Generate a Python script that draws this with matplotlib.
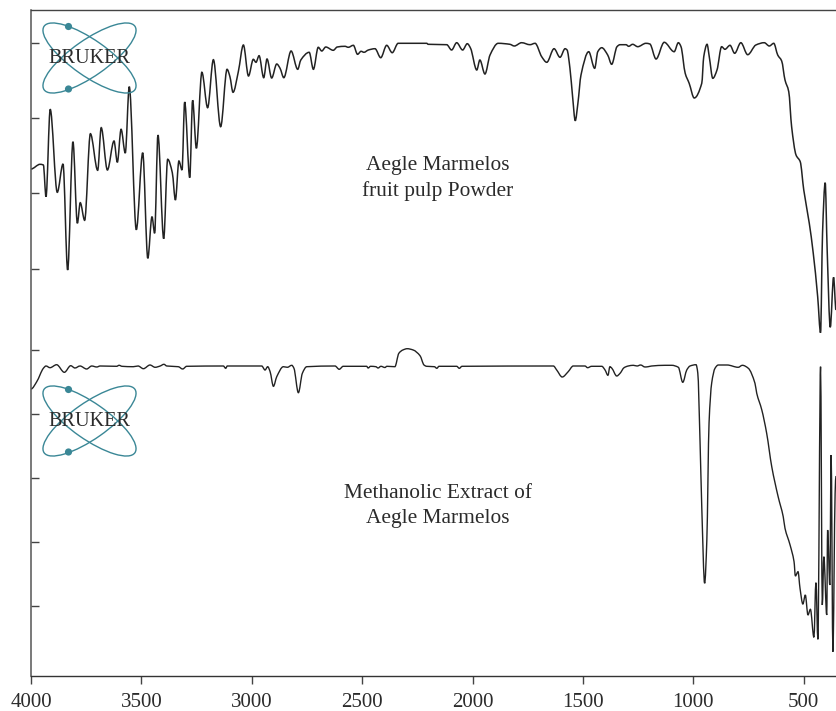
import matplotlib
matplotlib.use("Agg")
import matplotlib.pyplot as plt
import numpy as np
from matplotlib.patches import Ellipse, Circle, PathPatch
from matplotlib.path import Path

# Spectra: wavenumber (cm-1) and height above the x axis
powder_wn = [4000, 3959, 3944, 3932, 3913, 3881, 3855, 3834, 3810, 3790, 3777, 3757, 3731, 3698, 3682, 3654,
             3624, 3609, 3592, 3573, 3555, 3523, 3494, 3471, 3452, 3440, 3425, 3399, 3381, 3360, 3346, 3330,
             3316, 3304, 3281, 3268, 3251, 3226, 3200, 3174, 3141, 3112, 3099, 3085, 3061, 3038, 3015, 2993,
             2981, 2967, 2946, 2931, 2910, 2887, 2872, 2855, 2822, 2792, 2778, 2740, 2721, 2699, 2683, 2665,
             2631, 2613, 2578, 2563, 2540, 2521, 2505, 2492, 2472, 2442, 2416, 2389, 2364, 2337, 2208, 2201,
             2117, 2095, 2072, 2045, 2024, 2009, 1981, 1967, 1944, 1921, 1884, 1831, 1811, 1778, 1740, 1717,
             1687, 1664, 1631, 1604, 1581, 1572, 1559, 1547, 1535, 1523, 1509, 1474, 1447, 1433, 1415, 1388,
             1370, 1346, 1332, 1305, 1293, 1275, 1252, 1215, 1197, 1169, 1132, 1087, 1068, 1056, 1037, 1019,
             996, 962, 953, 938, 928, 912, 893, 872, 857, 834, 813, 785, 754, 717, 679, 656, 636, 618, 600,
             585, 568, 555, 535, 516, 500, 475, 457, 437, 424, 415, 403, 394, 380, 365, 354]
powder_t = [507, 511.7, 511, 479.3, 566.7, 483.7, 512, 406, 534.3, 452.7, 473.3, 455.7, 542.3, 505.7, 548.3, 506,
            535, 513.7, 546.7, 523, 589.3, 446.3, 523.3, 417.7, 459.3, 442.7, 541, 437.3, 516.7, 503.3, 476, 515,
            506, 574, 498.3, 575.7, 527.7, 603.7, 568.3, 616.3, 549.3, 606.7, 599.3, 583.7, 604.3, 631, 600, 616.7,
            613.7, 620.3, 598.3, 617, 598, 612, 607.7, 598.3, 625, 606.7, 616, 623.7, 606.7, 628.7, 625, 629,
            625.7, 629, 629.7, 628.7, 630.7, 621.7, 624.7, 623.7, 626, 627.3, 618.3, 630.7, 623.3, 632.7, 632.7, 631.7,
            631.3, 626, 633.3, 626, 632.3, 627.7, 606, 616, 602, 621, 632.7, 631.7, 630, 633.3, 631.3, 632.7,
            619.3, 613.7, 627.3, 618.7, 627.3, 626, 607.7, 579.3, 555.3, 572.7, 601, 624.3, 607.7, 624.3, 628.3, 621,
            611.7, 629.3, 631.3, 631.3, 629.7, 631.7, 629.3, 632.7, 632, 617, 633.7, 624.3, 633.3, 629.3, 602.7, 592.7,
            578, 592.7, 619.3, 631.7, 619.3, 597.7, 606, 629.3, 626.7, 630.7, 622.7, 633.3, 621.3, 631, 633.3, 630, 632.7, 621, 615,
            596, 584.3, 549.3, 521, 514.3, 486, 452.7, 422.7, 379.3, 343.3, 442.7, 493.3, 426, 348.7, 398.7, 366]

extract_wn = [4000, 3974, 3944, 3932, 3914, 3884, 3849, 3820, 3801, 3778, 3748, 3725, 3702, 3687, 3612, 3601,
              3588, 3537, 3515, 3491, 3461, 3438, 3415, 3398, 3385, 3333, 3313, 3295, 3129, 3118, 3111, 2955,
              2940, 2928, 2917, 2902, 2887, 2857, 2839, 2819, 2809, 2789, 2771, 2751, 2623, 2604, 2586, 2480,
              2473, 2462, 2438, 2428, 2415, 2397, 2388, 2352, 2334, 2316, 2296, 2269, 2238, 2220, 2208, 2173,
              2162, 2152, 2072, 2060, 2048, 1634, 1619, 1594, 1567, 1544, 1491, 1479, 1461, 1415, 1400, 1387,
              1378, 1369, 1347, 1332, 1314, 1295, 1272, 1255, 1239, 1219, 1205, 1189, 1129, 1098, 1068, 1048,
              1030, 1015, 988, 980, 970, 962, 949, 939, 929, 917, 902, 887, 847, 797, 778, 751, 721, 713, 690,
              668, 645, 616, 593, 585, 562, 544, 538, 526, 517, 504, 493, 481, 470, 454, 445, 436, 424, 416,
              409, 396, 392, 382, 376, 368, 358, 354]
extract_t = [287, 294.3, 307.7, 310, 308.3, 311.3, 303.7, 310.3, 308, 310, 307, 310, 309, 310, 309.7, 310.7,
             309.7, 309.3, 310, 307.3, 311, 308.7, 310, 311.7, 310, 309.3, 307, 309.7, 310, 307.7, 310, 310,
             306, 309.3, 304.3, 289.7, 299.3, 309.3, 308.7, 310.7, 307.7, 283.3, 302.7, 309.3, 310, 306.7, 309.7, 309.7,
             308, 309.7, 309.3, 308, 309.7, 308.5, 309.7, 309.3, 322.7, 326, 327.3, 326, 320.3, 311, 309.7, 309.3,
             307.7, 309.7, 309.7, 307.7, 309.7, 310, 306, 299, 304.3, 310, 310, 308.3, 309.7, 309.7, 306, 300.7,
             309.3, 307.7, 300, 302.7, 308.3, 310, 310.7, 310, 311, 309, 309.3, 310, 310.7, 310.7, 308.7, 293.7,
             306, 310, 311.3, 303, 236, 169.3, 92.7, 136, 253, 293, 307.7, 311, 311, 308.7, 310.7, 307.7, 292.7, 282.7, 266,
             242.7, 209.3, 179.3, 159.3, 147.7, 131, 114.3, 100, 104.3, 87.7, 72, 81, 61, 66.7, 38.7, 93.3, 36.7, 309.3, 71,
             119.3, 61, 146, 91, 221, 24.3, 182.7, 200]

x_ticks = [4000, 3500, 3000, 2500, 2000, 1500, 1000, 500]
y_ticks = [633, 558, 483, 407, 326, 262, 198, 134, 70]

W, H = 836, 711
SERIF = "Liberation Serif"
TEAL = "#3a8796"
INK = "#2b2b2b"


def smooth_path(xs, ys):
    # monotone bezier through the read points, flat at each peak so tops come out round
    x = np.array(xs, dtype=float)
    y = np.array(ys, dtype=float)
    h = np.diff(x)
    d = np.diff(y) / h
    m = np.zeros(len(x))
    for i in range(1, len(x) - 1):
        if d[i - 1] * d[i] > 0:
            m[i] = 2 * d[i - 1] * d[i] / (d[i - 1] + d[i])
    verts = [(x[0], y[0])]
    codes = [Path.MOVETO]
    for i in range(len(h)):
        verts.append((x[i] + h[i] / 3, y[i] + m[i] * h[i] / 3))
        verts.append((x[i + 1] - h[i] / 3, y[i + 1] - m[i + 1] * h[i] / 3))
        verts.append((x[i + 1], y[i + 1]))
        codes += [Path.CURVE4] * 3
    return Path(verts, codes)


def add_logo(fig, cx, cy):
    # square axes in pixel units so the orbits stay round
    size = 120
    box = fig.add_axes([(cx - size / 2) / W, 1 - (cy + size / 2) / H, size / W, size / H])
    box.set_xlim(-size / 2, size / 2)
    box.set_ylim(-size / 2, size / 2)
    box.axis("off")
    box.patch.set_alpha(0)
    for angle in (35, -35):
        box.add_patch(Ellipse((0, 0), 110.8, 36, angle=angle, fill=False, ec=TEAL, lw=1.0))
    for dy in (31.5, -31):
        box.add_patch(Circle((-21, dy), 3.6, color=TEAL, lw=0))
    box.text(0, -0.5, "BRUKER", family=SERIF, fontsize=14.6, color=INK, ha="center", va="center")


fig = plt.figure(figsize=(W / 100, H / 100), dpi=100)
ax = fig.add_axes([31 / W, 1 - 676 / H, 805 / W, 666 / H])

ax.add_patch(PathPatch(smooth_path(powder_wn, powder_t), fill=False, ec="#222222", lw=1.1))
ax.add_patch(PathPatch(smooth_path(extract_wn, extract_t), fill=False, ec="#222222", lw=1.0))

ax.set_xlim(4000, 354)
ax.set_ylim(0, 666)
ax.set_xticks(x_ticks)
ax.set_yticks(y_ticks)
ax.set_yticklabels([])
ax.tick_params(axis="x", direction="out", length=5.5, width=1.0, color="#444444", pad=7, labelsize=15, labelcolor=INK)
ax.tick_params(axis="y", direction="in", length=6, width=1.0, color="#444444")
for label in ax.get_xticklabels():
    label.set_family(SERIF)

ax.spines["right"].set_visible(False)
ax.spines["left"].set_color("#555555")
ax.spines["left"].set_linewidth(1.1)
ax.spines["top"].set_color("#444444")
ax.spines["top"].set_linewidth(1.0)
ax.spines["bottom"].set_color("#333333")
ax.spines["bottom"].set_linewidth(1.0)

ax.text(2157, 497.5, "Aegle Marmelos\nfruit pulp Powder", family=SERIF, fontsize=15.4, color=INK,
        ha="center", va="center", linespacing=1.36)
ax.text(2157, 170, "Methanolic Extract of\nAegle Marmelos", family=SERIF, fontsize=15.4, color=INK,
        ha="center", va="center", linespacing=1.4)

add_logo(fig, 89.5, 58)
add_logo(fig, 89.5, 421)

fig.savefig("out.png", dpi=100)
